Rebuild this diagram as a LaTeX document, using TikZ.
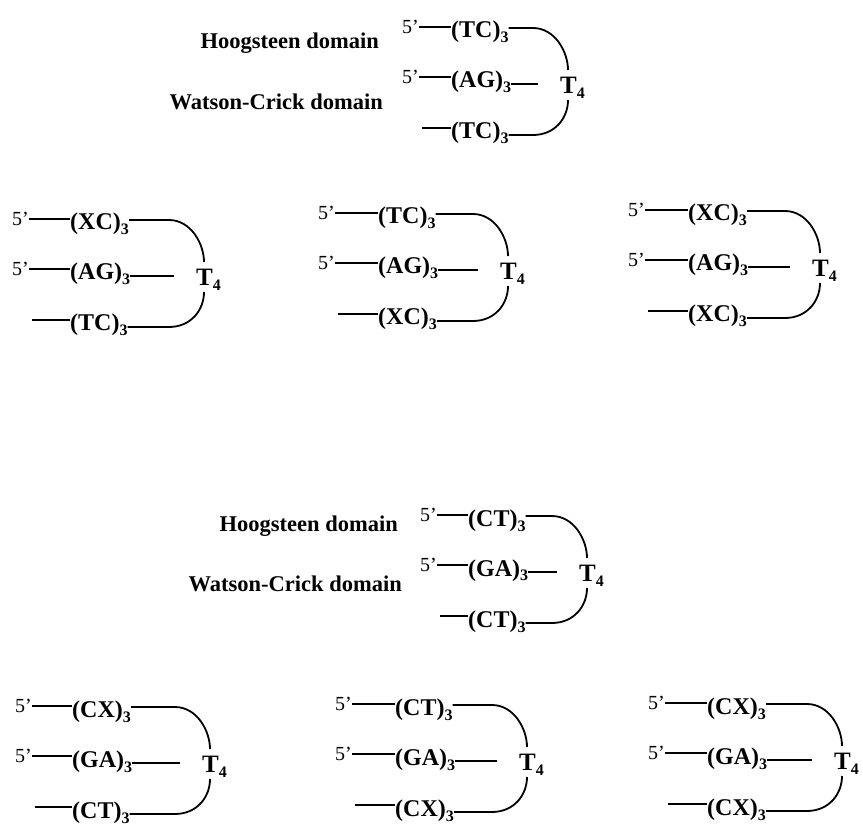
\documentclass[tikz,border=0pt]{standalone}
\usepackage{fontspec}
\setmainfont{Liberation Serif}
\usetikzlibrary{positioning}

\newcommand{\sbs}[1]{\raisebox{-5pt}{\fontsize{16}{16}\selectfont #1}}

\begin{document}
\begin{tikzpicture}[x=1pt, y=-1pt,
    strand/.style = {line width=1.8pt},
    prime/.style = {inner sep=0pt, anchor=west, font=\fontsize{20}{22}\selectfont},
    seq/.style = {inner sep=0pt, anchor=base west, font=\fontsize{24}{28}\selectfont\bfseries},
    loopname/.style = {inner sep=0pt, anchor=west, font=\fontsize{25}{28}\selectfont\bfseries},
    domlabel/.style = {inner sep=0pt, anchor=base east, font=\fontsize{22.5}{26}\selectfont\bfseries}]

    \useasboundingbox (0,0) rectangle (863,826);

    % domain labels
    \node[domlabel] (hoogtop) at (379,49) {Hoogsteen domain};
    \node[domlabel] (wctop) at (383,110) {Watson-Crick domain};
    \node[domlabel] (hoogbot) at (398,531) {Hoogsteen domain};
    \node[domlabel] (wcbot) at (402,591) {Watson-Crick domain};

    % hairpins: name/x/y/strand offset/loop offset/strands
    \foreach \nm/\bx/\by/\so/\lo/\sa/\sb/\sc in {
        h/402/27/49/166/TC/AG/TC, a/12/219/58/192/XC/AG/TC,
        b/318/213/60/190/TC/AG/XC, c/628/210/60/192/XC/AG/XC,
        H/420/515/48/167/CT/GA/CT, A/15/706/57/195/CX/GA/CT,
        B/335/704/60/192/CT/GA/CX, C/648/703/59/194/CX/GA/CX}{
        \node[prime] (\nm-p1) at (\bx,\by) {5'};
        \node[prime] (\nm-p2) at (\bx,\by+50) {5'};
        \node[seq] (\nm-s1) at (\bx+\so,\by+11) {(\sa)\sbs{3}};
        \node[seq] (\nm-s2) at (\bx+\so,\by+61) {(\sb)\sbs{3}};
        \node[seq] (\nm-s3) at (\bx+\so,\by+112) {(\sc)\sbs{3}};
        \node[loopname] (\nm-t) at (\bx+\lo-8,\by+61) {T\sbs{4}};
        \coordinate (\nm-c1) at (\bx+\lo-35,\by+1);
        \coordinate (\nm-c3) at (\bx+\lo-35,\by+108);
        \coordinate (\nm-up) at (\bx+\lo,\by+43);
        \coordinate (\nm-dn) at (\bx+\lo,\by+73);
        \coordinate (\nm-e2) at (\bx+\lo-30,\by+57);
        \coordinate (\nm-l3) at (\bx+20,\by+101);
        % 5' ends
        \draw[strand] (\nm-p1.east) -- (\nm-p1.east -| \nm-s1.west);
        \draw[strand] (\nm-p2.east) -- (\nm-p2.east -| \nm-s2.west);
        \draw[strand] (\nm-l3) -- (\nm-l3 -| \nm-s3.west);
        % loop
        \draw[strand] (\nm-s1.east |- \nm-c1) -- (\nm-c1) .. controls +(22,0) and +(0,-18) .. (\nm-up);
        \draw[strand] (\nm-s2.east |- \nm-e2) -- (\nm-e2);
        \draw[strand] (\nm-s3.east |- \nm-c3) -- (\nm-c3) .. controls +(22,0) and +(0,18) .. (\nm-dn);
    }

\end{tikzpicture}
\end{document}
